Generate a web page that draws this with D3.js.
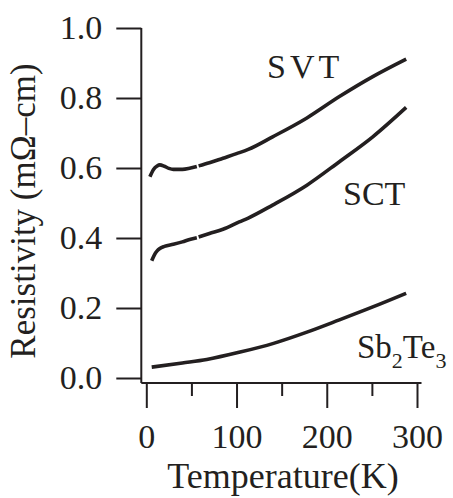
<!DOCTYPE html>
<html>
<head>
<meta charset="utf-8">
<script src="https://cdn.jsdelivr.net/npm/d3@7"></script>
<style>
  body { margin: 0; background: #fff; }
  svg text { font-family: "Liberation Serif", "Times New Roman", Times, "DejaVu Serif", serif; fill: #231f20; }
</style>
</head>
<body>
<div id="chart"></div>
<script>
// Temperature (K) and resistivity (mOhm-cm); null marks the small break in the curve
const svtTemp = [4, 8, 12, 15, 20, 25, 30, 40, 48, 56, 57, 58, 70, 85, 100, 113, 140, 178, 214, 251, 288];
const svtRes  = [0.575, 0.596, 0.606, 0.609, 0.605, 0.599, 0.596, 0.596, 0.599, 0.604, null, 0.606, 0.615, 0.628, 0.641, 0.653, 0.689, 0.743, 0.804, 0.861, 0.911];

const sctTemp = [6, 9, 12, 15, 20, 30, 40, 48, 56, 57, 58, 70, 85, 103, 113, 140, 178, 214, 251, 288];
const sctRes  = [0.335, 0.352, 0.363, 0.370, 0.376, 0.382, 0.389, 0.396, 0.401, null, 0.403, 0.413, 0.425, 0.446, 0.457, 0.494, 0.551, 0.618, 0.689, 0.773];

const sbTemp = [6, 40, 67, 104, 141, 178, 214, 251, 288];
const sbRes  = [0.031, 0.043, 0.053, 0.074, 0.099, 0.131, 0.166, 0.203, 0.242];

const xTicks = [0, 100, 200, 300];
const xMinorTicks = [50, 150, 250];
const yTicks = [0.0, 0.2, 0.4, 0.6, 0.8, 1.0];

const ink = "#231f20";
const serif = '"Liberation Serif", "Times New Roman", Times, "DejaVu Serif", serif';
const width = 453, height = 498;

const svg = d3.select("#chart").append("svg")
    .attr("width", width)
    .attr("height", height)
    .attr("font-family", serif);

// Scales
const x = d3.scaleLinear().domain([0, 300]).range([146.3, 417]);
const y = d3.scaleLinear().domain([0, 1]).range([378, 28]);

const axisX0 = x(0) - 5;   // where the y axis sits
const axisY0 = y(0) + 5;   // where the x axis sits

// Axis lines
svg.append("line")
    .attr("x1", axisX0).attr("x2", axisX0)
    .attr("y1", y(1)).attr("y2", axisY0)
    .attr("stroke", ink).attr("stroke-width", 2);
svg.append("line")
    .attr("x1", axisX0).attr("x2", x(305))
    .attr("y1", axisY0).attr("y2", axisY0)
    .attr("stroke", ink).attr("stroke-width", 2);

// Y axis
const yAxis = svg.append("g")
    .attr("transform", `translate(${axisX0},0)`)
    .call(d3.axisLeft(y).tickValues(yTicks).tickFormat(d3.format(".1f"))
        .tickSize(25).tickPadding(14));
yAxis.attr("font-family", serif).attr("font-size", 34);
yAxis.select(".domain").remove();
yAxis.selectAll("line").attr("stroke", ink).attr("stroke-width", 2);
yAxis.selectAll("text")
    .attr("fill", ink)
    .attr("dy", "0.3em");

// X axis, major ticks
const xAxis = svg.append("g")
    .attr("transform", `translate(0,${axisY0})`)
    .call(d3.axisBottom(x).tickValues(xTicks).tickFormat(d3.format("d"))
        .tickSize(25));
xAxis.attr("font-family", serif).attr("font-size", 34);
xAxis.select(".domain").remove();
xAxis.selectAll("line").attr("stroke", ink).attr("stroke-width", 2);
xAxis.selectAll("text")
    .attr("fill", ink)
    .attr("y", 65)
    .attr("dy", 0);

// X axis, minor ticks
const xMinor = svg.append("g")
    .attr("transform", `translate(0,${axisY0})`)
    .call(d3.axisBottom(x).tickValues(xMinorTicks).tickFormat("").tickSize(13));
xMinor.select(".domain").remove();
xMinor.selectAll("line").attr("stroke", ink).attr("stroke-width", 2);

// Axis titles
svg.append("text")
    .attr("x", 283)
    .attr("y", 488)
    .attr("text-anchor", "middle")
    .attr("font-size", 36)
    .text("Temperature(K)");

svg.append("text")
    .attr("transform", "translate(35,211) rotate(-90)")
    .attr("text-anchor", "middle")
    .attr("font-size", 35)
    .text("Resistivity (mΩ–cm)");

// Curves
const line = d3.line()
    .defined(d => d.r !== null)
    .x(d => x(d.t))
    .y(d => y(d.r))
    .curve(d3.curveMonotoneX);

function series(temps, vals) {
    return temps.map((t, i) => ({ t: t, r: vals[i] }));
}

[series(svtTemp, svtRes), series(sctTemp, sctRes), series(sbTemp, sbRes)].forEach(data => {
    svg.append("path")
        .datum(data)
        .attr("d", line)
        .attr("fill", "none")
        .attr("stroke", ink)
        .attr("stroke-width", 3.6);
});

// Series labels
svg.append("text")
    .attr("x", 267)
    .attr("y", 78)
    .attr("font-size", 34)
    .attr("letter-spacing", 4)
    .text("SVT");

svg.append("text")
    .attr("x", 343)
    .attr("y", 205)
    .attr("font-size", 34)
    .text("SCT");

const sb = svg.append("text")
    .attr("x", 357)
    .attr("y", 358)
    .attr("font-size", 33);
sb.append("tspan").text("Sb");
sb.append("tspan").attr("dy", 10).attr("font-size", 22).text("2");
sb.append("tspan").attr("dy", -10).text("Te");
sb.append("tspan").attr("dy", 10).attr("font-size", 22).text("3");
</script>
</body>
</html>
